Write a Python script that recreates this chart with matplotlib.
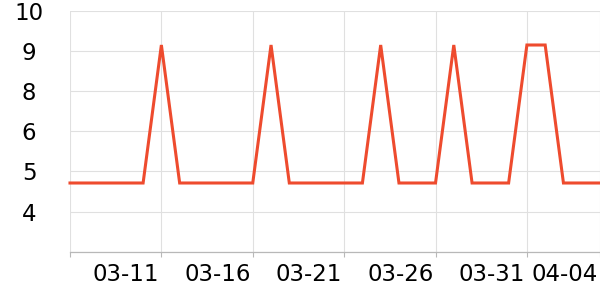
import numpy as np
import pandas as pd
import matplotlib
matplotlib.use("Agg")
import matplotlib.pyplot as plt
import matplotlib.transforms as mtransforms

# daily values, 03-06 .. 04-04
dates = pd.date_range("2024-03-06", "2024-04-04", freq="D")
values = [5, 5, 5, 5, 5, 9, 5, 5, 5, 5, 5, 9, 5, 5, 5, 5, 5,
          9, 5, 5, 5, 9, 5, 5, 5, 9, 9, 5, 5, 5]

y_ticks = np.linspace(3, 10, 7)
y_labels = ["", "4", "5", "6", "8", "9", "10"]
x_ticks = pd.to_datetime(["2024-03-06", "2024-03-11", "2024-03-16", "2024-03-21",
                          "2024-03-26", "2024-03-31", "2024-04-04"])
x_labels = ["", "03-11", "03-16", "03-21", "03-26", "03-31", "04-04"]

fig = plt.figure(figsize=(6, 3), dpi=100)
ax = fig.add_axes([70 / 600, 48 / 300, 530 / 600, 241.5 / 300])

ax.plot(dates, values, color="#ee4b2e", lw=2.2, solid_joinstyle="miter", clip_on=False)

ax.set_xlim(x_ticks[0], x_ticks[-1])
ax.set_ylim(3, 10)
ax.set_yticks(y_ticks)
ax.set_yticklabels(y_labels)
ax.set_xticks(x_ticks)
ax.set_xticklabels(x_labels)

ax.grid(True, color="#e0e0e0", lw=0.8)
ax.set_axisbelow(True)
for s in ["top", "right", "left"]:
    ax.spines[s].set_visible(False)
ax.spines["bottom"].set_color("#b8b8b8")
ax.spines["bottom"].set_linewidth(0.9)

ax.tick_params(axis="y", length=0, pad=29.5, labelsize=16.5)
ax.tick_params(axis="x", length=3.6, color="#b8b8b8", width=0.8, pad=4, labelsize=16.5)
for lab in ax.get_yticklabels():
    lab.set_ha("center")
shift = mtransforms.ScaledTranslation(-2 / 100, 0, fig.dpi_scale_trans)
for lab in ax.get_xticklabels():
    lab.set_ha("right")
    lab.set_transform(lab.get_transform() + shift)

fig.savefig("out.png", dpi=100)
